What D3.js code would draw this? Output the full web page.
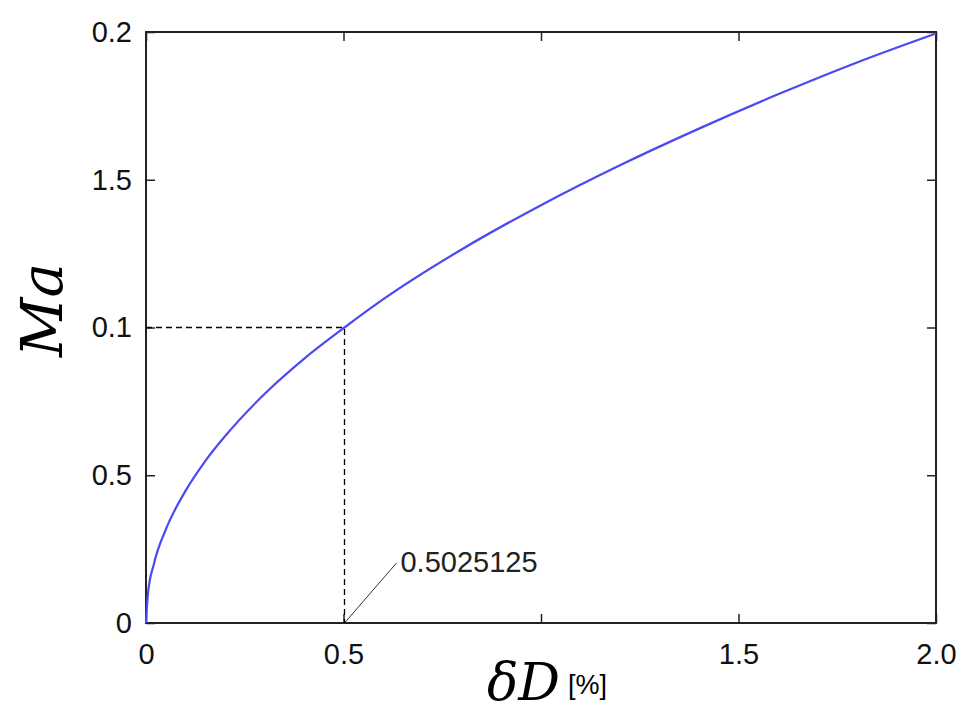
<!DOCTYPE html>
<html><head><meta charset="utf-8">
<script src="https://cdn.jsdelivr.net/npm/d3@7"></script>
<style>body{margin:0;background:#fff}</style>
</head><body>
<svg width="960" height="720"></svg>
<script>
// values (deltaD in %, Ma)
const deltaD = [0, 0.005, 0.02, 0.05, 0.1, 0.15, 0.2, 0.3, 0.4, 0.5025, 0.6, 0.8, 1.0, 1.2, 1.4, 1.6, 1.8, 2.0];
const mach = [0, 0.0100, 0.0200, 0.0316, 0.0447, 0.0548, 0.0632, 0.0775, 0.0894, 0.1, 0.1095, 0.1265, 0.1414, 0.1549, 0.1673, 0.1789, 0.1897, 0.1995];
const xTicks = [0, 0.5, 1.0, 1.5, 2.0];
const xTickLabels = ['0', '0.5', '', '1.5', '2.0'];
const yTicks = [0, 0.05, 0.1, 0.15, 0.2];
const yTickLabels = ['0', '0.5', '0.1', '1.5', '0.2'];
const markX = 0.5025, markY = 0.1, markLabel = '0.5025125';

const svg = d3.select('svg');
const pLeft = 146, pRight = 936, pTop = 32, pBottom = 623;
const x = d3.scaleLinear().domain([0, 2.0]).range([pLeft, pRight]);
const y = d3.scaleLinear().domain([0, 0.2]).range([pBottom, pTop]);
const font = '"Liberation Sans Narrow", "Liberation Sans", Arial, sans-serif';

function styleAxis(g, labels) {
  g.select('.domain').remove();
  g.selectAll('line').attr('stroke', '#222').attr('stroke-width', 1.5);
  g.selectAll('text').style('font-family', font).style('font-size', '29px').attr('fill', '#111');
  if (!labels) g.selectAll('text').remove();
}
const xf = (d, i) => xTickLabels[i];
const yf = (d, i) => yTickLabels[i];
svg.append('g').attr('transform', `translate(0,${pBottom})`)
  .call(d3.axisBottom(x).tickValues(xTicks).tickFormat(xf).tickSizeInner(-9).tickSizeOuter(0).tickPadding(20))
  .call(g => styleAxis(g, true));
svg.append('g').attr('transform', `translate(0,${pTop})`)
  .call(d3.axisTop(x).tickValues(xTicks).tickSizeInner(-9).tickSizeOuter(0)).call(g => styleAxis(g, false));
svg.append('g').attr('transform', `translate(${pLeft},0)`)
  .call(d3.axisLeft(y).tickValues(yTicks).tickFormat(yf).tickSizeInner(-9).tickSizeOuter(0).tickPadding(14))
  .call(g => styleAxis(g, true));
svg.append('g').attr('transform', `translate(${pRight},0)`)
  .call(d3.axisRight(y).tickValues(yTicks).tickSizeInner(-9).tickSizeOuter(0)).call(g => styleAxis(g, false));

svg.append('rect').attr('x', pLeft).attr('y', pTop).attr('width', pRight - pLeft).attr('height', pBottom - pTop)
  .attr('fill', 'none').attr('stroke', '#222').attr('stroke-width', 2);

// dashed guides
svg.append('path')
  .attr('d', `M${x(0)},${y(markY)}H${x(markX)}V${y(0)}`)
  .attr('fill', 'none').attr('stroke', '#000').attr('stroke-width', 1.3).attr('stroke-dasharray', '6,4');

// curve
svg.append('path').datum(deltaD.map((d, i) => [d, mach[i]]))
  .attr('d', d3.line().x(d => x(d[0])).y(d => y(d[1])).curve(d3.curveMonotoneX))
  .attr('fill', 'none').attr('stroke', '#4a4af5').attr('stroke-width', 2.2);

// annotation
svg.append('line').attr('x1', x(markX)).attr('y1', y(0)).attr('x2', x(markX) + 52).attr('y2', y(0) - 60)
  .attr('stroke', '#000').attr('stroke-width', 0.8);
svg.append('text').attr('x', x(markX) + 56).attr('y', y(0) - 51).text(markLabel)
  .style('font-family', font).style('font-size', '29px').attr('fill', '#222');

// axis titles
svg.append('text').attr('transform', 'translate(62,310) rotate(-90)').attr('text-anchor', 'middle')
  .style('font-family', '"DejaVu Serif", "Liberation Serif", serif').style('font-style', 'italic').style('font-size', '58px')
  .text('Ma');
svg.append('text').attr('x', 560).attr('y', 700).attr('text-anchor', 'end')
  .style('font-family', '"DejaVu Serif", "Liberation Serif", serif').style('font-style', 'italic').style('font-size', '52px')
  .text('δD');
svg.append('text').attr('x', 568).attr('y', 694)
  .style('font-family', font).style('font-size', '27px').text('[%]');
</script>
</body></html>
